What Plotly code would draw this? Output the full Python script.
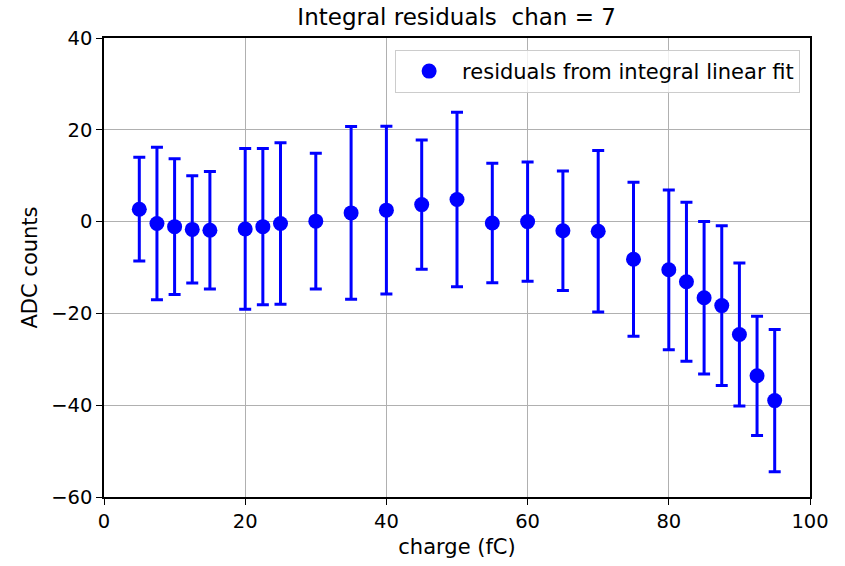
import plotly.graph_objects as go

charge = [5, 7.5, 10, 12.5, 15, 20, 22.5, 25, 30, 35, 40, 45, 50, 55, 60, 65, 70,
          75, 80, 82.5, 85, 87.5, 90, 92.5, 95]
residuals = [2.7, -0.4, -1.1, -1.7, -1.9, -1.6, -1.1, -0.4, 0.1, 1.9, 2.5, 3.7, 4.8,
             -0.3, 0.0, -2.0, -2.1, -8.2, -10.5, -13.1, -16.6, -18.3, -24.6, -33.6, -39.0]
errors = [11.3, 16.6, 14.8, 11.7, 12.8, 17.5, 17.0, 17.6, 14.8, 18.8, 18.3, 14.1, 19.0,
          13.0, 13.0, 13.0, 17.6, 16.8, 17.4, 17.3, 16.6, 17.4, 15.6, 13.0, 15.5]

x_ticks = [0, 20, 40, 60, 80, 100]
y_ticks = [-60, -40, -20, 0, 20, 40]

fig = go.Figure()
fig.add_trace(go.Scatter(
    x=charge, y=residuals, mode="markers",
    name="residuals from integral linear fit",
    marker=dict(color="#0000ff", size=15),
    error_y=dict(type="data", array=errors, visible=True, color="#0000ff",
                 thickness=3, width=6),
))

axis_common = dict(
    showline=True, linecolor="black", linewidth=1.5, mirror=True,
    ticks="outside", ticklen=6, tickwidth=1.2, tickcolor="black",
    showgrid=True, gridcolor="#b0b0b0", gridwidth=1, zeroline=False,
    tickfont=dict(family="DejaVu Sans", size=19.5, color="black"),
)

fig.update_layout(
    width=845, height=566,
    margin=dict(l=104, r=35, t=38, b=69),
    paper_bgcolor="white", plot_bgcolor="white",
    title=dict(text="Integral residuals  chan = 7", x=0.5404,
               xanchor="center", y=1 - 17 / 566, yanchor="middle",
               font=dict(family="DejaVu Sans", size=23, color="black")),
    xaxis=dict(range=[0, 100], tickvals=x_ticks,
               title=dict(text="charge (fC)", standoff=7,
                          font=dict(family="DejaVu Sans", size=21, color="black")),
               **axis_common),
    yaxis=dict(range=[-60, 40], tickvals=y_ticks,
               title=dict(text="ADC counts", standoff=8,
                          font=dict(family="DejaVu Sans", size=21, color="black")),
               **axis_common),
    legend=dict(x=0.986, y=0.974, xanchor="right", yanchor="top",
                bgcolor="rgba(255,255,255,0.8)", bordercolor="#cccccc", borderwidth=1,
                itemwidth=56,
                font=dict(family="DejaVu Sans", size=21, color="black")),
    showlegend=True,
)

fig.write_html("out.html")
